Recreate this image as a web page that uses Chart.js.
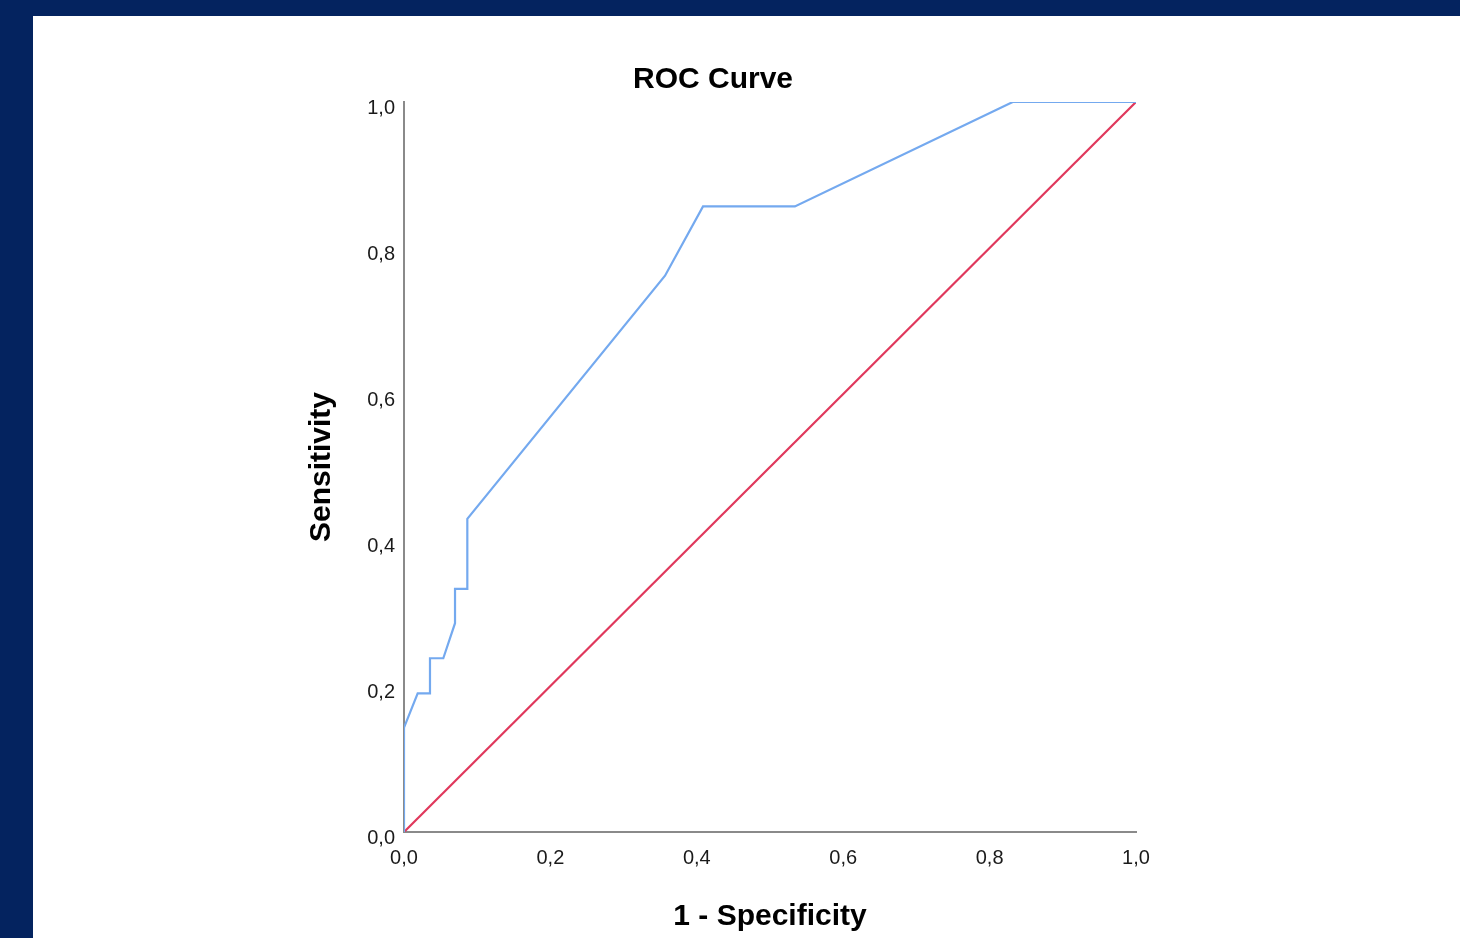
<!DOCTYPE html>
<html>
<head>
<meta charset="utf-8">
<title>ROC Curve</title>
<script src="https://cdn.jsdelivr.net/npm/chart.js@4/dist/chart.umd.min.js"></script>
<style>
  html, body { margin:0; padding:0; background:#04235f; overflow:hidden; }
  #roc { display:block; }
</style>
</head>
<body>
<canvas id="roc" width="1460" height="938"></canvas>
<script>
/* ---- Data ---- */
const fpr = [0, 0, 0.0187, 0.0355, 0.0355, 0.0537, 0.0697, 0.0697, 0.0865, 0.0865, 0.3566, 0.4085, 0.534, 0.8316, 1.0];
const tpr = [0, 0.143, 0.190, 0.190, 0.238, 0.238, 0.286, 0.333, 0.333, 0.429, 0.762, 0.857, 0.857, 1.0, 1.0];
const refX = [0, 1];
const refY = [0, 1];
const tickValues = [0, 0.2, 0.4, 0.6, 0.8, 1.0];

const chartTitle = 'ROC Curve';
const xTitle = '1 - Specificity';
const yTitle = 'Sensitivity';

/* ---- Helpers ---- */
const FONT = "'Liberation Sans', Arial, sans-serif";
const toPts = (xs, ys) => xs.map((x, i) => ({ x, y: ys[i] }));
const fmtComma = (v) => Number(v).toFixed(1).replace('.', ',');

// navy frame + white panel + title (drawn behind the chart)
const panelPlugin = {
  id: 'panel',
  beforeDraw(chart) {
    const c = chart.ctx;
    c.save();
    c.fillStyle = '#04235f';
    c.fillRect(0, 0, chart.width, chart.height);
    c.fillStyle = '#ffffff';
    c.fillRect(33, 16, chart.width - 33, chart.height - 16);
    c.fillStyle = '#000000';
    c.font = `bold 30px ${FONT}`;
    c.textAlign = 'center';
    c.textBaseline = 'middle';
    c.fillText(chartTitle, 713, 80);
    c.restore();
  }
};

const axisCommon = {
  type: 'linear',
  min: 0,
  max: 1,
  grid: { display: false, drawTicks: false },
  border: { display: true, color: '#8a8a8a', width: 2 },
  afterBuildTicks: (scale) => { scale.ticks = tickValues.map(v => ({ value: v })); }
};

new Chart(document.getElementById('roc').getContext('2d'), {
  type: 'scatter',
  data: {
    datasets: [
      {
        label: 'ROC',
        data: toPts(fpr, tpr),
        showLine: true,
        borderColor: '#74a9ef',
        borderWidth: 2.2,
        pointRadius: 0,
        tension: 0
      },
      {
        label: 'Reference',
        data: toPts(refX, refY),
        showLine: true,
        borderColor: '#e0385c',
        borderWidth: 2.2,
        pointRadius: 0,
        tension: 0
      }
    ]
  },
  plugins: [panelPlugin],
  options: {
    responsive: false,
    animation: false,
    devicePixelRatio: 1,
    layout: { padding: { left: 304, right: 324, top: 102, bottom: 3 } },
    plugins: { legend: { display: false }, tooltip: { enabled: false }, title: { display: false } },
    scales: {
      x: {
        ...axisCommon,
        position: 'bottom',
        afterFit: (s) => { s.height = 103; },
        ticks: { padding: 14, color: '#1a1a1a', font: { family: FONT, size: 20 }, callback: fmtComma, maxRotation: 0 },
        title: { display: true, text: xTitle, color: '#000', padding: { top: 0, bottom: 0 }, font: { family: FONT, size: 30, weight: 'bold' } }
      },
      y: {
        ...axisCommon,
        position: 'left',
        afterFit: (s) => { s.width = 100; },
        ticks: { padding: 9, labelOffset: 6, color: '#1a1a1a', font: { family: FONT, size: 20 }, callback: fmtComma },
        title: { display: true, text: yTitle, color: '#000', padding: { top: 0, bottom: 0 }, font: { family: FONT, size: 30, weight: 'bold' } }
      }
    }
  }
});
</script>
</body>
</html>
